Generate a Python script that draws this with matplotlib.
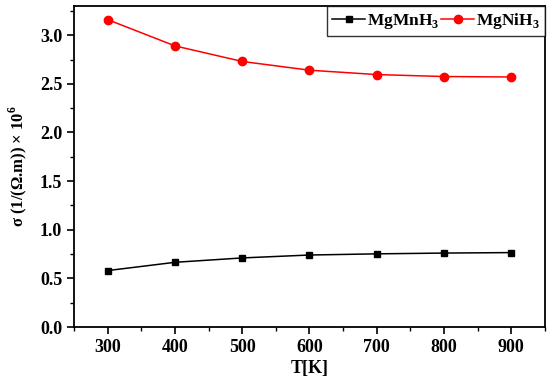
import matplotlib
matplotlib.use("Agg")
import matplotlib.pyplot as plt
from matplotlib.ticker import MultipleLocator

T = [300, 400, 500, 600, 700, 800, 900]
mgmn = [0.58, 0.665, 0.71, 0.74, 0.752, 0.76, 0.765]
mgni = [3.16, 2.89, 2.73, 2.64, 2.595, 2.575, 2.57]

plt.rcParams['font.family'] = ['Liberation Serif', 'DejaVu Serif']
plt.rcParams['font.weight'] = 'bold'
plt.rcParams['mathtext.fontset'] = 'custom'
plt.rcParams['mathtext.rm'] = 'Liberation Serif:bold'
plt.rcParams['mathtext.bf'] = 'Liberation Serif:bold'

fig = plt.figure(figsize=(5.5, 3.78), dpi=100)
ax = fig.add_axes([74/550, 1-327/378, (545-74)/550, (327-6)/378])

ax.plot(T, mgmn, '-', color='black', marker='s', markersize=5, lw=1.1, label=r'MgMnH$_3$')
ax.plot(T, mgni, '-', color='red', marker='o', markersize=6, lw=1.1, label=r'MgNiH$_3$')

ax.set_xlim(250, 950)
ax.set_ylim(0, 3.3)
ax.xaxis.set_major_locator(MultipleLocator(100))
ax.xaxis.set_minor_locator(MultipleLocator(50))
ax.yaxis.set_major_locator(MultipleLocator(0.5))
ax.yaxis.set_minor_locator(MultipleLocator(0.25))
ax.set_xticks(T)
ax.tick_params(which='major', direction='out', length=5, width=1.2, labelsize=13)
ax.tick_params(which='minor', direction='out', length=3, width=1.0)
for s in ax.spines.values():
    s.set_linewidth(1.3)
for lab in ax.get_xticklabels() + ax.get_yticklabels():
    lab.set_fontweight('bold')

ax.set_xlabel('T[K]', fontsize=13, fontweight='bold', labelpad=3)
ax.set_ylabel(r'σ (1/(Ω.m)) × 10$^6$', fontsize=12, fontweight='bold', labelpad=8)

leg = ax.legend(loc='upper right', ncol=2, frameon=True, fancybox=False,
                edgecolor='black', handlelength=1.9, handletextpad=0.1,
                columnspacing=0.1, borderaxespad=0.0, borderpad=0.3,
                prop={'weight': 'bold', 'size': 12.5})
leg.get_frame().set_linewidth(1.0)

fig.savefig('out.png', dpi=100)
